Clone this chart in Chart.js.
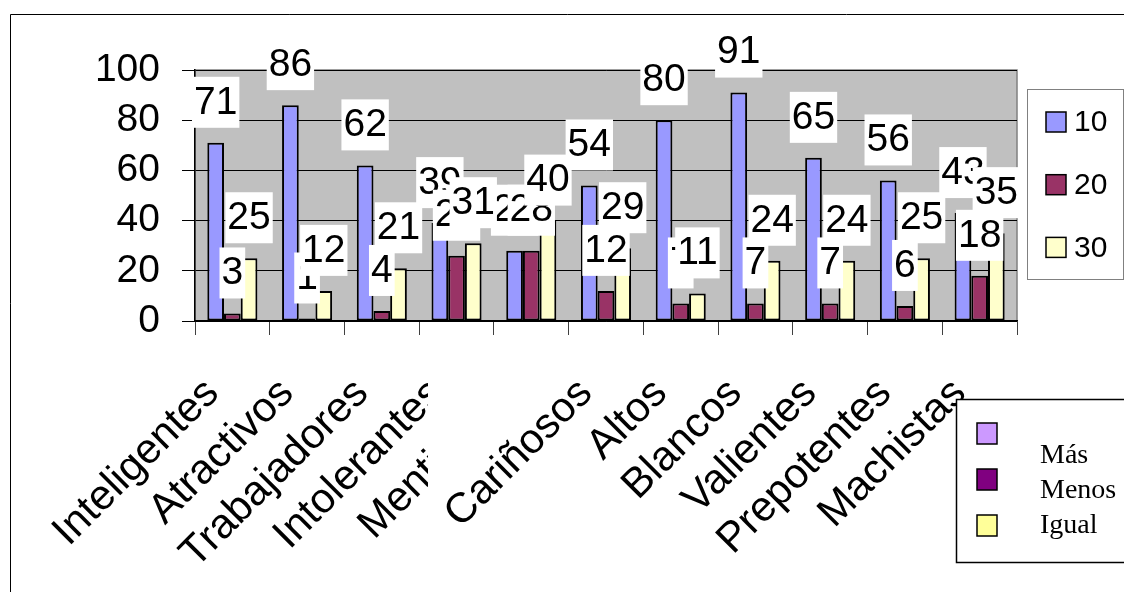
<!DOCTYPE html>
<html>
<head>
<meta charset="utf-8">
<script src="https://cdn.jsdelivr.net/npm/chart.js@4.4.1/dist/chart.umd.min.js"></script>
<style>
  html, body { margin: 0; padding: 0; background: #fff; }
  #wrap { width: 1124px; height: 592px; }
</style>
</head>
<body>
<div id="wrap"><canvas id="myChart" width="1124" height="592"></canvas></div>
<script>
const categories = ["Inteligentes", "Atractivos", "Trabajadores", "Intolerantes", "Mentirosos",
    "Cariñosos", "Altos", "Blancos", "Valientes", "Prepotentes", "Machistas"];
const seriesNames = ["10", "20", "30"];
const serie10 = [71, 86, 62, 39, 28, 54, 80, 91, 65, 56, 43];
const serie20 = [3, 1, 4, 26, 28, 12, 7, 7, 7, 6, 18];
const serie30 = [25, 12, 21, 31, 40, 29, 11, 24, 24, 25, 35];
const yTicks = [0, 20, 40, 60, 80, 100];
const extraLegend = ["Más", "Menos", "Igual"];
const extraColors = ["#CC99FF", "#800080", "#FFFF99"];

const SANS = '"Liberation Sans", Arial, sans-serif';
const SERIF = '"Liberation Serif", "Times New Roman", serif';

// grey plot area behind the bars
const plotBackground = {
    id: "plotBackground",
    beforeDraw(chart) {
        const a = chart.chartArea;
        const ctx = chart.ctx;
        ctx.save();
        ctx.fillStyle = "#C0C0C0";
        ctx.fillRect(a.left, a.top, a.right - a.left, a.bottom - a.top);
        ctx.strokeStyle = "#808080";
        ctx.lineWidth = 1.5;
        ctx.strokeRect(a.left, a.top, a.right - a.left, a.bottom - a.top);
        ctx.restore();
    },
};

// excel style value labels, white box above each bar
const valueLabels = {
    id: "valueLabels",
    afterDatasetsDraw(chart) {
        const ctx = chart.ctx;
        ctx.save();
        ctx.font = "39px " + SANS;
        ctx.textAlign = "center";
        ctx.textBaseline = "middle";
        chart.data.datasets.forEach((ds, i) => {
            chart.getDatasetMeta(i).data.forEach((bar, j) => {
                const txt = String(ds.data[j]);
                const w = ctx.measureText(txt).width + 4;
                const cy = bar.y - 41;
                ctx.fillStyle = "#fff";
                ctx.fillRect(bar.x - w / 2, cy - 25, w, 51);
                ctx.fillStyle = "#000";
                ctx.fillText(txt, bar.x, cy + 1);
            });
        });
        ctx.restore();
    },
};

// frame, both legends, and the white patch that hides part of two category names
const decorations = {
    id: "decorations",
    afterDraw(chart) {
        const ctx = chart.ctx;
        ctx.save();

        // patch over the end of "Intolerantes" / "Mentirosos" (x >= 428)
        const xs = chart.scales.x;
        const items = xs._labelItems || xs._computeLabelItems(chart.chartArea);
        ctx.beginPath();
        [3, 4].forEach((i) => {
            const it = items[i];
            ctx.save();
            ctx.translate(it.options.translation[0], it.options.translation[1]);
            ctx.rotate(it.options.rotation);
            ctx.rect(-500, it.textOffset - 25, 530, 50);
            ctx.restore();
        });
        ctx.save();
        ctx.clip();
        ctx.fillStyle = "#fff";
        ctx.fillRect(428, 338, 200, 254);
        ctx.restore();

        ctx.strokeStyle = "#000";
        ctx.lineWidth = 1;
        ctx.beginPath();
        ctx.moveTo(10.5, 600);
        ctx.lineTo(10.5, 14.5);
        ctx.lineTo(1130, 14.5);
        ctx.stroke();

        // series legend
        ctx.strokeStyle = "#808080";
        ctx.strokeRect(1027.5, 89.5, 96, 190);
        ctx.font = "30px " + SANS;
        ctx.textBaseline = "middle";
        ctx.textAlign = "left";
        chart.data.datasets.forEach((ds, i) => {
            const y = 112 + i * 62.7;
            ctx.fillStyle = ds.backgroundColor;
            ctx.fillRect(1046, y, 20, 20);
            ctx.strokeStyle = "#000";
            ctx.lineWidth = 1.5;
            ctx.strokeRect(1046, y, 20, 20);
            ctx.fillStyle = "#000";
            ctx.fillText(ds.label, 1074, y + 11);
        });

        // second legend box
        ctx.fillStyle = "#fff";
        ctx.fillRect(956, 399, 180, 164);
        ctx.strokeStyle = "#000";
        ctx.lineWidth = 1.5;
        ctx.strokeRect(956.5, 399.5, 180, 163);
        const boxY = [423, 469, 515];
        const textY = [463, 498, 533];
        ctx.font = "28px " + SERIF;
        ctx.textBaseline = "alphabetic";
        extraLegend.forEach((t, i) => {
            ctx.fillStyle = extraColors[i];
            ctx.fillRect(977, boxY[i], 20, 21);
            ctx.strokeStyle = "#000";
            ctx.strokeRect(977, boxY[i], 20, 21);
            ctx.fillStyle = "#000";
            ctx.fillText(t, 1040, textY[i]);
        });
        ctx.restore();
    },
};

const barStyle = { borderColor: "#000", borderWidth: 2, borderSkipped: false };

new Chart(document.getElementById("myChart").getContext("2d"), {
    type: "bar",
    data: {
        labels: categories,
        datasets: [
            { label: seriesNames[0], data: serie10, backgroundColor: "#9999FF", ...barStyle },
            { label: seriesNames[1], data: serie20, backgroundColor: "#993366", ...barStyle },
            { label: seriesNames[2], data: serie30, backgroundColor: "#FFFFCC", ...barStyle },
        ],
    },
    options: {
        responsive: false,
        animation: false,
        devicePixelRatio: 1,
        categoryPercentage: 0.67,
        barPercentage: 1,
        layout: { padding: { left: 10, top: 70, right: 107, bottom: 0 } },
        plugins: {
            legend: { display: false },
            tooltip: { enabled: false },
        },
        scales: {
            x: {
                afterFit: (s) => { s.height = 271; },
                grid: {
                    offset: true,
                    drawOnChartArea: false,
                    drawTicks: true,
                    tickLength: 14,
                    color: "#404040",
                },
                border: { color: "#000", width: 1.5 },
                ticks: {
                    autoSkip: false,
                    minRotation: 45,
                    maxRotation: 45,
                    color: "#000",
                    padding: 34,
                    labelOffset: -20,
                    font: { family: SANS, size: 42 },
                },
            },
            y: {
                min: 0,
                max: 100,
                afterFit: (s) => { s.width = 185; },
                afterBuildTicks: (s) => { s.ticks = yTicks.map((v) => ({ value: v })); },
                grid: { color: "#000", tickLength: 13, lineWidth: 1 },
                border: { color: "#000", width: 1.5 },
                ticks: {
                    color: "#000",
                    padding: 22,
                    font: { family: SANS, size: 39 },
                },
            },
        },
    },
    plugins: [plotBackground, valueLabels, decorations],
});
</script>
</body>
</html>
